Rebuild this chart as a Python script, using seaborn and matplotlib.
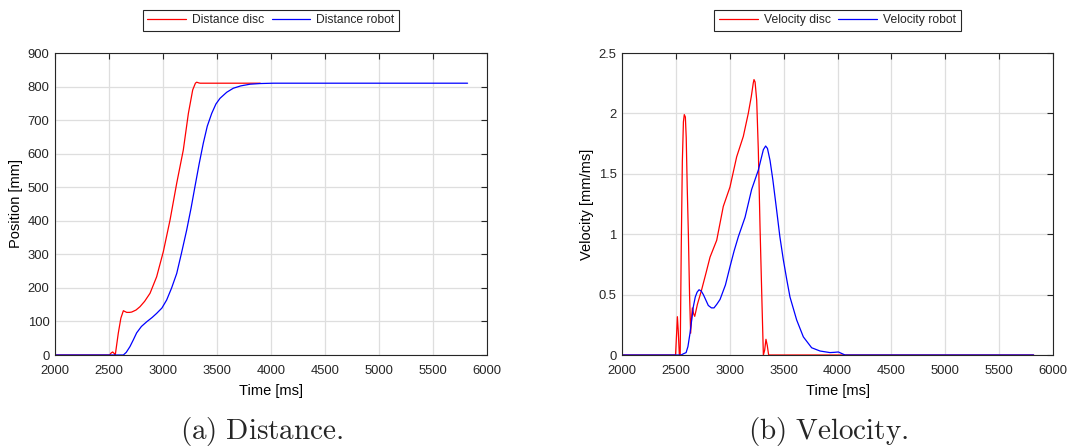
import numpy as np
import pandas as pd
import matplotlib
matplotlib.use("Agg")
import matplotlib.pyplot as plt
import seaborn as sns
from matplotlib.ticker import FuncFormatter

# ---- dados ----
# (a) Distancia [mm] x tempo [ms]
t_dist_disc = [2000, 2505, 2520, 2534, 2550, 2558, 2586, 2610, 2633, 2645, 2664, 2690, 2710,
               2750, 2787, 2830, 2880, 2941, 3003, 3065, 3127, 3188, 3235, 3275, 3300,
               3312, 3330, 3343, 3600, 3900]
dist_disc = [0, 0, 6, 9, 4, 0, 65, 110, 132, 130, 127, 127, 128,
             134, 144, 160, 184, 233, 308, 402, 512, 611, 720, 790, 810,
             813, 811, 810, 810, 810]

t_dist_robot = [2000, 2633, 2660, 2694, 2725, 2756, 2800, 2849, 2900, 2941, 2990, 3034,
                3080, 3127, 3170, 3219, 3260, 3296, 3335, 3373, 3410, 3451, 3490, 3528,
                3590, 3651, 3720, 3806, 3900, 4022, 5820]
dist_robot = [0, 0, 8, 25, 45, 66, 85, 99, 112, 124, 140, 164,
              200, 243, 302, 372, 438, 502, 570, 631, 682, 720, 748, 765,
              783, 795, 802, 807, 809, 810, 810]

# (b) Velocidade [mm/ms] x tempo [ms]
t_vel_disc = [2000, 2497, 2508, 2514, 2522, 2532, 2540, 2550, 2560, 2570, 2578, 2588,
              2596, 2605, 2616, 2627, 2637, 2645, 2653, 2665, 2675, 2700, 2739, 2780,
              2817, 2879, 2940, 3002, 3064, 3126, 3172, 3200, 3218, 3225, 3235, 3250,
              3265, 3281, 3300, 3312, 3324, 3336, 3348, 3361, 5820]
vel_disc = [0, 0, 0.2, 0.317, 0.2, 0, 0, 0.9, 1.6, 1.93, 1.99, 1.97,
            1.8, 1.4, 1.0, 0.5, 0.18, 0.3, 0.39, 0.34, 0.32, 0.42, 0.54, 0.68,
            0.81, 0.95, 1.23, 1.39, 1.64, 1.81, 2.0, 2.14, 2.25, 2.28, 2.26, 2.11,
            1.7, 1.06, 0.4, 0, 0.04, 0.13, 0.08, 0, 0]

t_vel_robot = [2000, 2548, 2570, 2595, 2612, 2631, 2647, 2662, 2680, 2697, 2715, 2735,
               2755, 2801, 2830, 2854, 2880, 2910, 2960, 3002, 3040, 3080, 3142, 3203,
               3265, 3312, 3333, 3350, 3374, 3400, 3435, 3465, 3497, 3530, 3559,
               3621, 3683, 3760, 3838, 3930, 3970, 4008, 4040, 4070, 5820]
vel_robot = [0, 0, 0.01, 0.02, 0.07, 0.18, 0.29, 0.40, 0.48, 0.52, 0.54, 0.53,
             0.50, 0.41, 0.39, 0.39, 0.42, 0.46, 0.58, 0.73, 0.86, 0.98, 1.14, 1.37,
             1.53, 1.70, 1.73, 1.71, 1.61, 1.45, 1.20, 0.98, 0.79, 0.62, 0.48,
             0.29, 0.15, 0.06, 0.033, 0.02, 0.022, 0.025, 0.012, 0, 0]

# ---- estilo ----
sns.set_theme(style="whitegrid")
plt.rcParams["font.family"] = ["Liberation Sans", "DejaVu Sans"]
plt.rcParams["mathtext.fontset"] = "cm"

fig = plt.figure(figsize=(10.68, 4.47), dpi=100)
ax_a = fig.add_axes([55 / 1068, 92 / 447, 432 / 1068, 302 / 447])
ax_b = fig.add_axes([622 / 1068, 92 / 447, 431 / 1068, 302 / 447])

cor_eixo = "#262626"


def estilo_matlab(ax):
    ax.set_facecolor("white")
    ax.grid(True, color="#dedede", linewidth=0.9)
    ax.set_axisbelow(True)
    for lado in ax.spines.values():
        lado.set_visible(True)
        lado.set_color(cor_eixo)
        lado.set_linewidth(0.8)
    ax.tick_params(direction="in", top=True, right=True, length=4, width=0.8,
                   color=cor_eixo, labelsize=9.4, labelcolor=cor_eixo)
    ax.tick_params(axis="x", pad=7)
    ax.tick_params(axis="y", pad=4)
    ax.set_xlim(2000, 6000)
    ax.set_xticks(range(2000, 6001, 500))
    ax.set_xlabel("Time [ms]", fontsize=10.5, color="black", labelpad=5)


# (a) distancia
sns.lineplot(x=t_dist_disc, y=dist_disc, color="red", lw=0.9, label="Distance disc",
             estimator=None, sort=False, ax=ax_a)
sns.lineplot(x=t_dist_robot, y=dist_robot, color="blue", lw=0.9, label="Distance robot",
             estimator=None, sort=False, ax=ax_a)
estilo_matlab(ax_a)
ax_a.set_ylim(0, 900)
ax_a.set_yticks(range(0, 901, 100))
ax_a.set_ylabel("Position [mm]", fontsize=10.5, color="black", labelpad=3)

# (b) velocidade
sns.lineplot(x=t_vel_disc, y=vel_disc, color="red", lw=0.9, label="Velocity disc",
             estimator=None, sort=False, ax=ax_b)
sns.lineplot(x=t_vel_robot, y=vel_robot, color="blue", lw=0.9, label="Velocity robot",
             estimator=None, sort=False, ax=ax_b)
estilo_matlab(ax_b)
ax_b.set_ylim(0, 2.5)
ax_b.set_yticks([0, 0.5, 1, 1.5, 2, 2.5])
ax_b.yaxis.set_major_formatter(FuncFormatter(lambda v, p: f"{v:g}"))
ax_b.set_ylabel("Velocity [mm/ms]", fontsize=10.5, color="black", labelpad=3)

for ax in (ax_a, ax_b):
    leg = ax.legend(loc="center", bbox_to_anchor=(0.5, 1.108), ncol=2, fontsize=8.7,
                    frameon=True, fancybox=False, framealpha=1, edgecolor=cor_eixo,
                    handlelength=3.2, handletextpad=0.5, columnspacing=0.6,
                    borderpad=0.4, borderaxespad=0)
    leg.get_frame().set_linewidth(0.8)

# legendas das figuras
fig.text(262 / 1068, 1 - 432 / 447, r"$\mathrm{(a)\ Distance.}$", ha="center", va="center",
         fontsize=21)
fig.text(828 / 1068, 1 - 432 / 447, r"$\mathrm{(b)\ Velocity.}$", ha="center", va="center",
         fontsize=21)

fig.savefig("out.png", dpi=100, facecolor="white")
